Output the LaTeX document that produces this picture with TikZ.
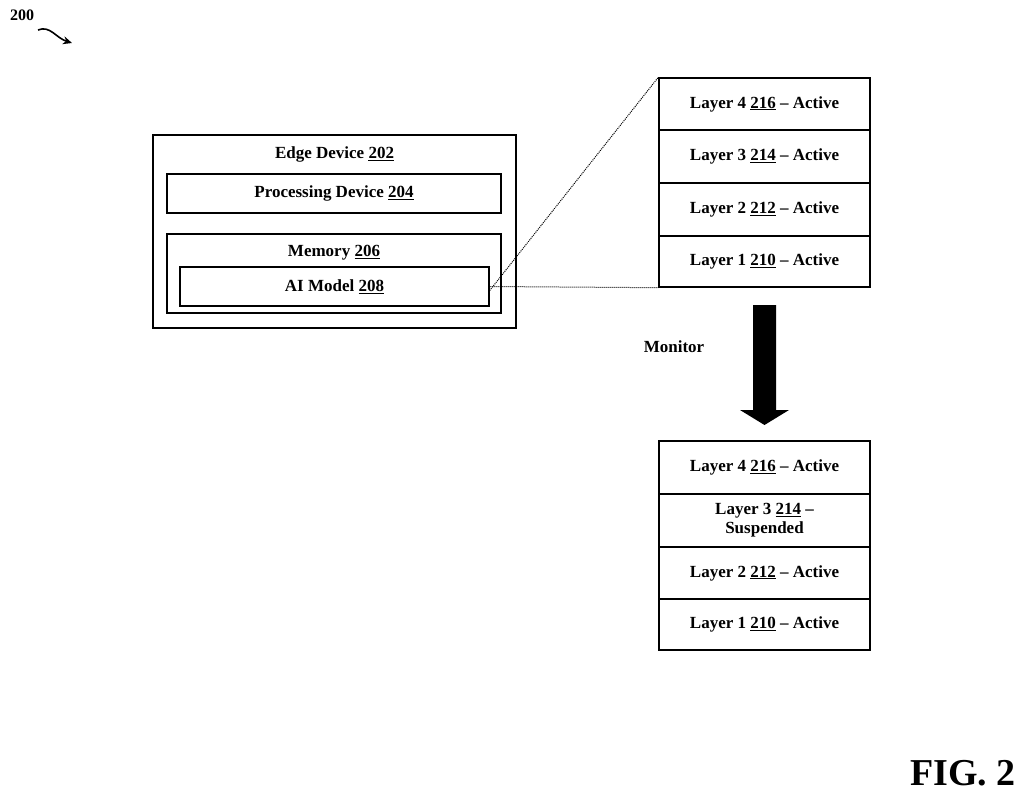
\documentclass[tikz,border=0pt]{standalone}
\usepackage{fontspec}
\setmainfont{Liberation Serif}
\usetikzlibrary{arrows.meta}
\tikzset{
	box/.style={draw,line width=1.4pt,inner sep=0pt,font=\bfseries\fontsize{17}{19}\selectfont},
	layer/.style={box,minimum width=211pt,minimum height=52pt,align=center},
	zoom/.style={densely dotted,line width=1pt}
}
\newcommand{\refn}[1]{\underline{#1}}
\begin{document}
\begin{tikzpicture}[x=1pt,y=-1pt]
	\useasboundingbox (0,0) rectangle (1024,797);
	\node[font=\bfseries\fontsize{16}{18}\selectfont] (fig) at (22,15) {200};
	\coordinate (tail) at (38,30);
	\coordinate (tip) at (72,43);
	\draw[line width=1.6pt,-{Stealth[length=9pt,width=8pt]}] (tail) .. controls (50,25) and (56,38) .. (tip);

	\node[box,minimum width=363pt,minimum height=193pt] (edge) at (334.5,231.5) {};
	\node[anchor=north,font=\bfseries\fontsize{17}{19}\selectfont] (edgelbl) at (334.5,143) {Edge Device \refn{202}};
	\node[box,minimum width=334pt,minimum height=39pt] (proc) at (334,193.5) {Processing Device \refn{204}};
	\node[box,minimum width=334pt,minimum height=79pt] (mem) at (334,273.5) {};
	\node[anchor=north,font=\bfseries\fontsize{17}{19}\selectfont] (memlbl) at (334,242) {Memory \refn{206}};
	\node[box,minimum width=309pt,minimum height=39pt] (ai) at (334.5,286.5) {AI Model \refn{208}};

	% model before monitoring
	\node[layer] (a4) at (764.5,104) {Layer 4 \refn{216} -- Active};
	\node[layer] (a3) at (764.5,156.5) {Layer 3 \refn{214} -- Active};
	\node[layer] (a2) at (764.5,209.5) {Layer 2 \refn{212} -- Active};
	\node[layer,minimum height=51pt] (a1) at (764.5,261.5) {Layer 1 \refn{210} -- Active};
	\draw[zoom] (ai.east) -- (a1.south west);
	\draw[zoom] ([yshift=-4pt]ai.east) -- (a4.north west);

	% monitor arrow
	\fill (753,305) -- (776,305) -- (776,410) -- (789,410) -- (764.5,425)
		-- (740,410) -- (753,410) -- cycle;
	\node[font=\bfseries\fontsize{17}{19}\selectfont] (monlbl) at (674,347) {Monitor};

	% model after monitoring
	\node[layer,minimum height=53pt] (b4) at (764.5,467.5) {Layer 4 \refn{216} -- Active};
	\node[layer,minimum height=53pt] (b3) at (764.5,520.5) {Layer 3 \refn{214} --\\Suspended};
	\node[layer] (b2) at (764.5,573) {Layer 2 \refn{212} -- Active};
	\node[layer,minimum height=51pt] (b1) at (764.5,624.5) {Layer 1 \refn{210} -- Active};

	\node[font=\bfseries\fontsize{38}{42}\selectfont] (figlbl) at (963,773) {FIG. 2};
\end{tikzpicture}
\end{document}
